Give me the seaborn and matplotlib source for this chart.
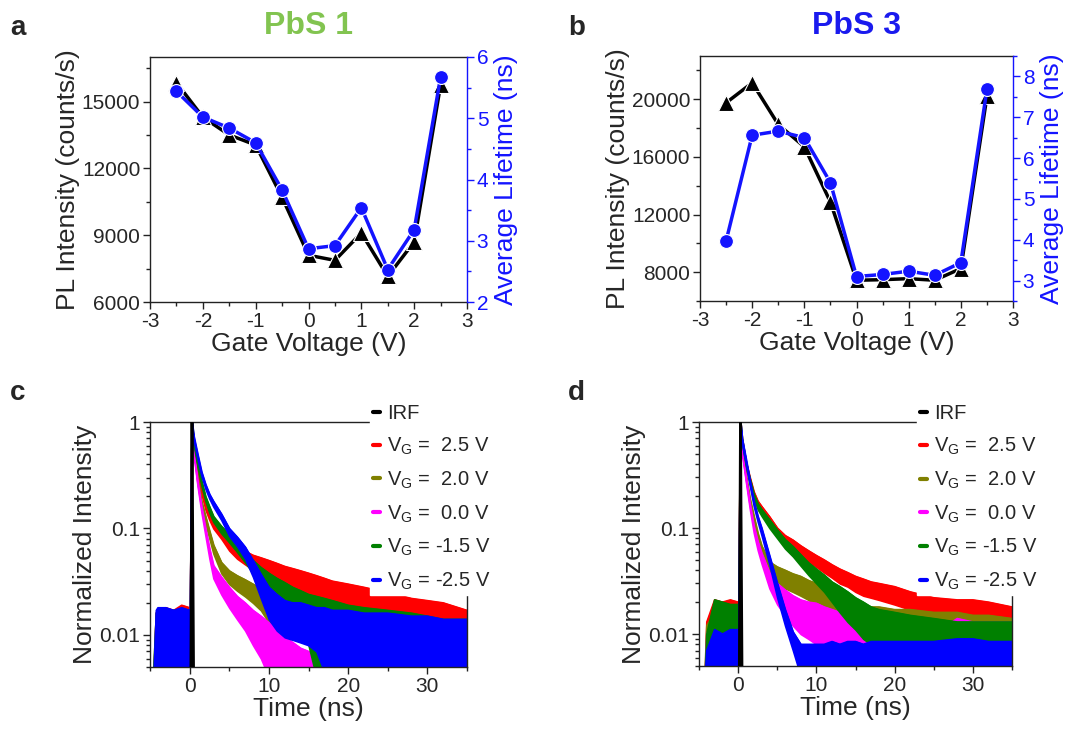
import matplotlib
matplotlib.use("Agg")
import matplotlib.pyplot as plt
import seaborn as sns
import numpy as np
from matplotlib.lines import Line2D
from matplotlib.ticker import MultipleLocator, FixedLocator, FixedFormatter, LogLocator, NullFormatter

# ---------------- data: gate-voltage dependence ----------------
gate_voltage = [-2.5, -2.0, -1.5, -1.0, -0.5, 0.0, 0.5, 1.0, 1.5, 2.0, 2.5]
pbs1_intensity = [15850, 14300, 13500, 13050, 10700, 8100, 7870, 9100, 7150, 8700, 15750]
pbs1_lifetime = [5.44, 5.02, 4.84, 4.60, 3.83, 2.87, 2.92, 3.54, 2.53, 3.18, 5.67]
pbs3_intensity = [19750, 21140, 18250, 16700, 12870, 7440, 7480, 7550, 7440, 8250, 20200]
pbs3_lifetime = [3.97, 6.56, 6.66, 6.50, 5.40, 3.10, 3.15, 3.23, 3.13, 3.44, 7.68]

# ---------------- data: PL decay envelopes ----------------
decay_time = [-4.5, -4.2, -4.0, -3.0, -2.0, -1.0, 0.0, 0.1, 0.3, 0.5, 1, 1.5, 2, 2.5, 3, 4, 5, 6, 7, 8,
              9, 10, 11, 12, 13, 14, 15, 16, 17, 18, 20, 22, 25, 28, 30, 32, 35]

# panel c (PbS 1)
c_red_hi = [0.004, 0.016, 0.017, 0.018, 0.017, 0.019, 0.018, 0.018, 1.0, 0.65, 0.36, 0.24, 0.17, 0.14, 0.12, 0.096, 0.078, 0.067, 0.061, 0.056,
            0.053, 0.050, 0.047, 0.044, 0.042, 0.040, 0.038, 0.036, 0.034, 0.032, 0.030, 0.028, 0.025, 0.022, 0.021, 0.020, 0.017]
c_red_lo = [0.004, 0.004, 0.004, 0.004, 0.004, 0.004, 0.004, 0.004, 0.9, 0.58, 0.32, 0.21, 0.15, 0.12, 0.10, 0.080, 0.062, 0.052, 0.046, 0.041,
            0.037, 0.034, 0.031, 0.029, 0.027, 0.025, 0.024, 0.022, 0.021, 0.020, 0.018, 0.017, 0.015, 0.013, 0.012, 0.012, 0.011]
c_olive_hi = [0.005, 0.016, 0.016, 0.016, 0.016, 0.016, 0.016, 0.016, 1.0, 0.60, 0.30, 0.18, 0.13, 0.095, 0.070, 0.048, 0.040, 0.036, 0.033, 0.030,
              0.027, 0.022, 0.016, 0.011, 0.008, 0.006, 0.0055, 0.0055, 0.006, 0.005, 0.005, 0.005, 0.005, 0.005, 0.005, 0.005, 0.005]
c_olive_lo = [0.004, 0.004, 0.004, 0.004, 0.004, 0.004, 0.004, 0.004, 0.9, 0.55, 0.27, 0.16, 0.11, 0.080, 0.058, 0.038, 0.030, 0.026, 0.023, 0.020,
              0.017, 0.013, 0.009, 0.006, 0.004, 0.004, 0.004, 0.004, 0.004, 0.004, 0.004, 0.004, 0.004, 0.004, 0.004, 0.004, 0.004]
c_pink_hi = [0.004, 0.016, 0.016, 0.016, 0.016, 0.016, 0.016, 0.016, 1.0, 0.55, 0.28, 0.16, 0.10, 0.065, 0.045, 0.035, 0.028, 0.023, 0.020, 0.017,
             0.015, 0.013, 0.011, 0.0095, 0.0085, 0.0075, 0.0070, 0.0065, 0.0060, 0.0055, 0.005, 0.005, 0.005, 0.005, 0.005, 0.005, 0.005]
c_pink_lo = [0.004, 0.004, 0.004, 0.004, 0.004, 0.004, 0.004, 0.004, 0.9, 0.50, 0.25, 0.14, 0.085, 0.052, 0.034, 0.024, 0.018, 0.014, 0.011, 0.008,
             0.006, 0.004, 0.004, 0.004, 0.004, 0.004, 0.004, 0.004, 0.004, 0.004, 0.004, 0.004, 0.004, 0.004, 0.004, 0.004, 0.004]
c_green_hi = [0.005, 0.016, 0.017, 0.017, 0.017, 0.017, 0.017, 0.017, 1.0, 0.70, 0.42, 0.28, 0.20, 0.16, 0.13, 0.105, 0.088, 0.073, 0.060, 0.050,
              0.043, 0.038, 0.034, 0.031, 0.028, 0.026, 0.024, 0.023, 0.022, 0.021, 0.019, 0.018, 0.017, 0.016, 0.015, 0.014, 0.014]
c_green_lo = [0.004, 0.004, 0.004, 0.004, 0.004, 0.004, 0.004, 0.004, 0.9, 0.62, 0.38, 0.25, 0.18, 0.14, 0.115, 0.090, 0.074, 0.060, 0.048, 0.038,
              0.030, 0.024, 0.019, 0.015, 0.012, 0.010, 0.008, 0.004, 0.004, 0.004, 0.004, 0.004, 0.004, 0.004, 0.004, 0.004, 0.004]
c_blue_hi = [0.004, 0.017, 0.018, 0.018, 0.017, 0.018, 0.017, 0.017, 1.0, 0.75, 0.50, 0.34, 0.26, 0.21, 0.18, 0.137, 0.100, 0.083, 0.067, 0.050,
             0.037, 0.028, 0.024, 0.021, 0.020, 0.020, 0.019, 0.018, 0.018, 0.017, 0.017, 0.016, 0.016, 0.015, 0.015, 0.014, 0.014]
c_blue_lo = [0.004, 0.004, 0.004, 0.004, 0.004, 0.004, 0.004, 0.004, 0.9, 0.68, 0.45, 0.31, 0.235, 0.19, 0.16, 0.12, 0.085, 0.068, 0.052, 0.035,
             0.022, 0.014, 0.011, 0.0095, 0.009, 0.0085, 0.008, 0.007, 0.0045, 0.004, 0.004, 0.004, 0.004, 0.004, 0.004, 0.004, 0.004]

# panel d (PbS 3)
d_red_hi = [0.004, 0.004, 0.013, 0.021, 0.020, 0.021, 0.020, 0.020, 1.0, 0.70, 0.42, 0.30, 0.22, 0.18, 0.16, 0.128, 0.100, 0.085, 0.077, 0.068,
            0.061, 0.055, 0.050, 0.045, 0.041, 0.038, 0.035, 0.033, 0.031, 0.030, 0.028, 0.025, 0.022, 0.021, 0.021, 0.020, 0.018]
d_red_lo = [0.004, 0.004, 0.004, 0.004, 0.004, 0.004, 0.004, 0.004, 0.9, 0.63, 0.38, 0.27, 0.20, 0.16, 0.14, 0.110, 0.085, 0.070, 0.062, 0.054,
            0.048, 0.043, 0.038, 0.034, 0.030, 0.028, 0.025, 0.023, 0.022, 0.021, 0.019, 0.017, 0.015, 0.014, 0.013, 0.013, 0.012]
d_olive_hi = [0.004, 0.005, 0.012, 0.016, 0.016, 0.016, 0.016, 0.016, 1.0, 0.60, 0.32, 0.19, 0.13, 0.090, 0.068, 0.048, 0.043, 0.040, 0.037, 0.035,
              0.032, 0.030, 0.027, 0.024, 0.022, 0.021, 0.020, 0.019, 0.018, 0.018, 0.017, 0.017, 0.016, 0.016, 0.015, 0.015, 0.014]
d_olive_lo = [0.004, 0.004, 0.004, 0.004, 0.004, 0.004, 0.004, 0.004, 0.9, 0.55, 0.29, 0.17, 0.115, 0.080, 0.058, 0.038, 0.030, 0.027, 0.025, 0.023,
              0.021, 0.018, 0.015, 0.012, 0.010, 0.008, 0.006, 0.004, 0.004, 0.004, 0.004, 0.004, 0.004, 0.004, 0.004, 0.004, 0.004]
d_pink_hi = [0.004, 0.004, 0.010, 0.015, 0.015, 0.015, 0.015, 0.015, 1.0, 0.55, 0.30, 0.17, 0.105, 0.075, 0.058, 0.038, 0.030, 0.026, 0.023, 0.021,
             0.020, 0.0195, 0.018, 0.017, 0.016, 0.015, 0.013, 0.010, 0.0085, 0.008, 0.008, 0.0085, 0.010, 0.014, 0.013, 0.013, 0.013]
d_pink_lo = [0.004, 0.004, 0.004, 0.004, 0.004, 0.004, 0.004, 0.004, 0.9, 0.50, 0.27, 0.15, 0.090, 0.062, 0.046, 0.027, 0.019, 0.015, 0.012, 0.010,
             0.009, 0.008, 0.007, 0.006, 0.005, 0.004, 0.004, 0.004, 0.004, 0.004, 0.004, 0.004, 0.004, 0.004, 0.004, 0.004, 0.004]
d_green_hi = [0.004, 0.004, 0.010, 0.021, 0.020, 0.019, 0.019, 0.019, 1.0, 0.70, 0.42, 0.29, 0.21, 0.17, 0.15, 0.120, 0.096, 0.078, 0.067, 0.056,
              0.047, 0.041, 0.036, 0.031, 0.028, 0.025, 0.022, 0.020, 0.018, 0.017, 0.016, 0.015, 0.014, 0.013, 0.013, 0.013, 0.013]
d_green_lo = [0.004, 0.004, 0.004, 0.004, 0.004, 0.004, 0.004, 0.004, 0.9, 0.63, 0.38, 0.26, 0.19, 0.15, 0.13, 0.100, 0.080, 0.064, 0.054, 0.044,
              0.036, 0.030, 0.025, 0.020, 0.016, 0.013, 0.011, 0.009, 0.008, 0.007, 0.004, 0.004, 0.004, 0.004, 0.004, 0.004, 0.004]
d_blue_hi = [0.004, 0.004, 0.007, 0.011, 0.010, 0.011, 0.011, 0.011, 1.0, 0.70, 0.45, 0.28, 0.18, 0.13, 0.10, 0.055, 0.030, 0.017, 0.0105, 0.008,
             0.008, 0.008, 0.008, 0.0085, 0.008, 0.0085, 0.0085, 0.008, 0.0085, 0.0085, 0.0085, 0.0085, 0.0085, 0.009, 0.009, 0.0085, 0.0085]
d_blue_lo = [0.004, 0.004, 0.004, 0.004, 0.004, 0.004, 0.004, 0.004, 0.9, 0.62, 0.40, 0.25, 0.16, 0.115, 0.085, 0.045, 0.022, 0.012, 0.007, 0.004,
             0.004, 0.004, 0.004, 0.004, 0.004, 0.004, 0.004, 0.004, 0.004, 0.004, 0.004, 0.004, 0.004, 0.004, 0.004, 0.004, 0.004]

irf_time = [0.15, 0.30, 0.50]
irf_value = [0.004, 1.0, 0.004]

legend_labels = ["IRF",
                 r"V$_{\mathregular{G}}$ =  2.5 V",
                 r"V$_{\mathregular{G}}$ =  2.0 V",
                 r"V$_{\mathregular{G}}$ =  0.0 V",
                 r"V$_{\mathregular{G}}$ = -1.5 V",
                 r"V$_{\mathregular{G}}$ = -2.5 V"]
curve_colors = ["black", "#ff0000", "#808000", "#ff00ff", "#008000", "#0000ff"]

# ---------------- style ----------------
sns.set_style("ticks")
plt.rcParams["font.family"] = ["Liberation Sans", "DejaVu Sans"]
plt.rcParams["mathtext.fontset"] = "custom"
plt.rcParams["mathtext.rm"] = "Liberation Sans"
plt.rcParams["mathtext.it"] = "Liberation Sans:italic"
plt.rcParams["mathtext.bf"] = "Liberation Sans:bold"
plt.rcParams["axes.unicode_minus"] = False

BLUE_AX = "#1414ff"
FRAME = "#222222"
TICK_FS = 15
LABEL_FS = 19

fig = plt.figure(figsize=(10.85, 7.31), dpi=100)
W, H = 1085, 731


def axes_px(left, top, right, bottom):
    return fig.add_axes([left / W, 1 - bottom / H, (right - left) / W, (bottom - top) / H])


def style_frame(ax):
    for s in ax.spines.values():
        s.set_color(FRAME)
        s.set_linewidth(1.0)
    ax.tick_params(which="both", direction="out", color=FRAME, labelsize=TICK_FS, width=1.0, pad=2)
    ax.tick_params(which="major", length=5)
    ax.tick_params(which="minor", length=3)


def gate_panel(ax, inten, life, ylim_l, ystep_l, yminor_l, ylim_r, yticks_r):
    style_frame(ax)
    sns.lineplot(x=gate_voltage, y=inten, ax=ax, color="black", lw=2.5, marker="^",
                 markersize=11, markeredgecolor="white", markeredgewidth=0.8, zorder=3)
    ax.set_xlim(-3, 3)
    ax.set_ylim(*ylim_l)
    ax.xaxis.set_major_locator(MultipleLocator(1))
    ax.xaxis.set_minor_locator(MultipleLocator(0.5))
    ax.yaxis.set_major_locator(MultipleLocator(ystep_l))
    ax.yaxis.set_minor_locator(MultipleLocator(yminor_l))
    ax.set_xlabel("Gate Voltage (V)", fontsize=LABEL_FS, labelpad=1)
    ax.set_ylabel("PL Intensity (counts/s)", fontsize=LABEL_FS, labelpad=1)
    ax.spines["right"].set_visible(False)

    ax2 = ax.twinx()
    sns.lineplot(x=gate_voltage, y=life, ax=ax2, color=BLUE_AX, lw=2.5, marker="o",
                 markersize=10, markeredgecolor="white", markeredgewidth=0.8, zorder=3)
    ax2.set_ylim(*ylim_r)
    ax2.yaxis.set_major_locator(FixedLocator(yticks_r))
    ax2.yaxis.set_minor_locator(MultipleLocator(0.5))
    for s in ["top", "left", "bottom"]:
        ax2.spines[s].set_visible(False)
    ax2.spines["right"].set_color(BLUE_AX)
    ax2.spines["right"].set_linewidth(1.0)
    ax2.tick_params(which="both", direction="out", colors=BLUE_AX, labelsize=TICK_FS, width=1.0, pad=2)
    ax2.tick_params(which="major", length=5)
    ax2.tick_params(which="minor", length=3)
    ax2.set_ylabel("Average Lifetime (ns)", fontsize=LABEL_FS, color=BLUE_AX, labelpad=4)
    return ax2


def decay_panel(ax, curves):
    style_frame(ax)
    ax.set_yscale("log")
    for hi, lo, col in curves:
        ax.fill_between(decay_time, lo, hi, color=col, edgecolor=col, lw=1.2, zorder=2)
        sns.lineplot(x=decay_time, y=hi, ax=ax, color=col, lw=1.2, zorder=2)
    sns.lineplot(x=irf_time, y=irf_value, ax=ax, color="black", lw=2.0, zorder=3)
    ax.set_xlim(-5, 35)
    ax.set_ylim(0.005, 1)
    ax.xaxis.set_major_locator(MultipleLocator(10))
    ax.xaxis.set_minor_locator(MultipleLocator(5))
    ax.yaxis.set_major_locator(FixedLocator([0.01, 0.1, 1]))
    ax.yaxis.set_major_formatter(FixedFormatter(["0.01", "0.1", "1"]))
    ax.yaxis.set_minor_locator(LogLocator(base=10, subs=np.arange(2, 10)))
    ax.yaxis.set_minor_formatter(NullFormatter())
    ax.tick_params(axis="both", which="both", top=False, right=False)
    ax.set_xlabel("Time (ns)", fontsize=LABEL_FS, labelpad=1)
    ax.set_ylabel("Normalized Intensity", fontsize=LABEL_FS, labelpad=2)
    handles = [Line2D([0], [0], color=c, lw=3) for c in curve_colors]
    leg = ax.legend(handles, legend_labels, loc="upper left", bbox_to_anchor=(0.695, 1.085),
                    fontsize=14.5, frameon=True, facecolor="white", edgecolor="white",
                    framealpha=1.0, fancybox=False, handlelength=0.35, handletextpad=0.35,
                    labelspacing=0.62, borderpad=0.15, borderaxespad=0.0)
    leg.set_zorder(10)


# ---- panel a ----
ax_a = axes_px(150, 57, 467, 302)
gate_panel(ax_a, pbs1_intensity, pbs1_lifetime, (6000, 17000), 3000, 1500, (2, 6), [2, 3, 4, 5, 6])
# ---- panel b ----
ax_b = axes_px(700, 56, 1013, 301)
gate_panel(ax_b, pbs3_intensity, pbs3_lifetime, (6000, 23000), 4000, 2000, (2.5, 8.5), [3, 4, 5, 6, 7, 8])
ax_b.yaxis.set_major_locator(FixedLocator([8000, 12000, 16000, 20000]))

# ---- panel c ----
ax_c = axes_px(150, 422, 467, 667)
decay_panel(ax_c, [(c_red_hi, c_red_lo, curve_colors[1]),
                   (c_olive_hi, c_olive_lo, curve_colors[2]),
                   (c_pink_hi, c_pink_lo, curve_colors[3]),
                   (c_green_hi, c_green_lo, curve_colors[4]),
                   (c_blue_hi, c_blue_lo, curve_colors[5])])
# ---- panel d ----
ax_d = axes_px(699, 422, 1012, 666)
decay_panel(ax_d, [(d_red_hi, d_red_lo, curve_colors[1]),
                   (d_olive_hi, d_olive_lo, curve_colors[2]),
                   (d_pink_hi, d_pink_lo, curve_colors[3]),
                   (d_green_hi, d_green_lo, curve_colors[4]),
                   (d_blue_hi, d_blue_lo, curve_colors[5])])

# ---- titles and panel letters ----
fig.text(308 / W, 1 - 34 / H, "PbS 1", ha="center", va="baseline", fontsize=23,
         fontweight="bold", color="#82c450")
fig.text(857 / W, 1 - 34 / H, "PbS 3", ha="center", va="baseline", fontsize=23,
         fontweight="bold", color="#1a1aee")
for letter, x, y in [("a", 10, 35), ("b", 568, 35), ("c", 10, 400), ("d", 568, 400)]:
    fig.text(x / W, 1 - y / H, letter, ha="left", va="baseline", fontsize=20, fontweight="bold")

fig.savefig("out.png", dpi=100)
